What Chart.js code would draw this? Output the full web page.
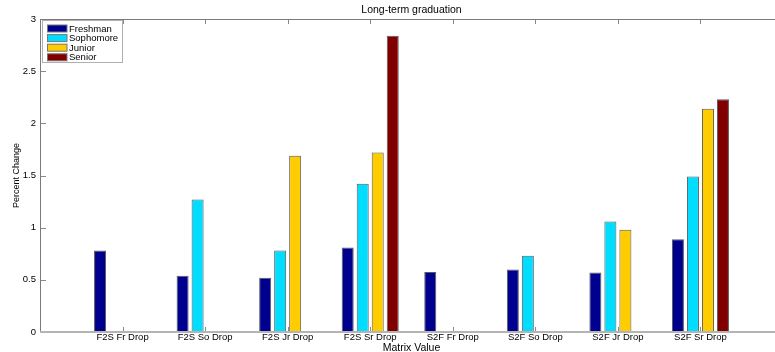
<!DOCTYPE html>
<html>
<head>
<meta charset="utf-8">
<script src="https://cdn.jsdelivr.net/npm/chart.js@4/dist/chart.umd.min.js"></script>
<style>
  html, body { margin: 0; padding: 0; background: #fff; }
  #wrap { width: 775px; height: 352px; overflow: hidden; position: relative; }
  canvas { display: block; }
</style>
</head>
<body>
<div id="wrap"><canvas id="c" width="790" height="352"></canvas></div>
<script>
// Matrix values along the x axis
const categories = ['F2S Fr Drop', 'F2S So Drop', 'F2S Jr Drop', 'F2S Sr Drop',
                    'S2F Fr Drop', 'S2F So Drop', 'S2F Jr Drop', 'S2F Sr Drop'];

// Percent change per class year
const freshman  = [0.78, 0.54, 0.52, 0.81, 0.575, 0.60, 0.57, 0.89];
const sophomore = [null, 1.27, 0.78, 1.42, null, 0.73, 1.06, 1.49];
const junior    = [null, null, 1.69, 1.72, null, null, 0.98, 2.14];
const senior    = [null, null, null, 2.84, null, null, null, 2.23];

const seriesNames = ['Freshman', 'Sophomore', 'Junior', 'Senior'];
const yTicks = [0, 0.5, 1, 1.5, 2, 2.5, 3];

const colors = ['#00008F', '#00DDFF', '#FFCC00', '#800000'];
const FONT = '"Liberation Sans", Arial, Helvetica, sans-serif';

// one empty slot on each side keeps the axis range at [0, n+1]
const pad = arr => [null, ...arr, null];
const labels = ['', ...categories, ''];

const datasets = [freshman, sophomore, junior, senior].map((d, i) => ({
  label: seriesNames[i],
  data: pad(d),
  backgroundColor: colors[i],
  borderColor: '#5a5a5a',
  borderWidth: 1,
  categoryPercentage: 4 / 5.5,
  barPercentage: 0.8
}));

// Box, inward tick marks and axis lines
const frame = {
  id: 'frame',
  afterDatasetsDraw(chart) {
    const { ctx, chartArea: a, scales: { x, y } } = chart;
    ctx.save();
    ctx.lineWidth = 1;
    ctx.strokeStyle = '#8a8a8a';
    for (let i = 1; i <= categories.length; i++) {
      const px = Math.round(x.getPixelForValue(i)) + 0.5;
      ctx.beginPath();
      ctx.moveTo(px, a.bottom); ctx.lineTo(px, a.bottom - 5);
      ctx.moveTo(px, a.top); ctx.lineTo(px, a.top + 5);
      ctx.stroke();
    }
    yTicks.forEach(v => {
      const py = Math.round(y.getPixelForValue(v)) + 0.5;
      ctx.beginPath();
      ctx.moveTo(a.left, py); ctx.lineTo(a.left + 6, py);
      ctx.moveTo(a.right, py); ctx.lineTo(a.right - 6, py);
      ctx.stroke();
    });
    // top and side lines
    ctx.strokeStyle = '#7a7a7a';
    ctx.beginPath();
    ctx.moveTo(Math.round(a.left) + 0.5, Math.round(a.bottom));
    ctx.lineTo(Math.round(a.left) + 0.5, Math.round(a.top) + 0.5);
    ctx.lineTo(Math.round(a.right) + 0.5, Math.round(a.top) + 0.5);
    ctx.lineTo(Math.round(a.right) + 0.5, Math.round(a.bottom));
    ctx.stroke();
    // baseline
    ctx.strokeStyle = '#b4b4b4';
    ctx.lineWidth = 2;
    ctx.beginPath();
    ctx.moveTo(a.left, Math.round(a.bottom));
    ctx.lineTo(a.right, Math.round(a.bottom));
    ctx.stroke();
    ctx.restore();
  }
};

// Legend box in the upper-left corner of the plot
const cornerLegend = {
  id: 'cornerLegend',
  afterDraw(chart) {
    const { ctx, chartArea: a } = chart;
    const bx = a.left + 2, by = a.top + 1, bw = 80, bh = 42;
    ctx.save();
    ctx.fillStyle = '#fff';
    ctx.fillRect(bx, by, bw, bh);
    ctx.strokeStyle = '#b0b0b0';
    ctx.lineWidth = 1;
    ctx.strokeRect(bx + 0.5, by + 0.5, bw, bh);
    ctx.font = '9.5px ' + FONT;
    ctx.textBaseline = 'middle';
    chart.data.datasets.forEach((ds, i) => {
      const cy = by + 8.5 + i * 9.6;
      ctx.fillStyle = ds.backgroundColor;
      ctx.fillRect(bx + 5, cy - 3.5, 20, 7);
      ctx.strokeStyle = '#777';
      ctx.strokeRect(bx + 5.5, cy - 3.5, 19.5, 7);
      ctx.fillStyle = '#000';
      ctx.fillText(ds.label, bx + 27, cy + 0.5);
    });
    ctx.restore();
  }
};

new Chart(document.getElementById('c'), {
  type: 'bar',
  data: { labels, datasets },
  plugins: [frame, cornerLegend],
  options: {
    responsive: false,
    animation: false,
    layout: { padding: { top: 0, right: 7, left: 0, bottom: 0 } },
    plugins: {
      legend: { display: false },
      tooltip: { enabled: false },
      title: {
        display: true,
        text: 'Long-term graduation',
        fullSize: false,
        color: '#000',
        font: { family: FONT, size: 10.5, weight: 'normal' },
        padding: { top: 4, bottom: 2.4 }
      }
    },
    scales: {
      x: {
        type: 'category',
        offset: false,
        grid: { display: false, drawTicks: false },
        border: { display: false },
        ticks: {
          color: '#000',
          font: { family: FONT, size: 9.5 },
          padding: 0,
          maxRotation: 0,
          autoSkip: false
        },
        title: {
          display: true,
          text: 'Matrix Value',
          color: '#000',
          font: { family: FONT, size: 10.5 },
          padding: { top: 0, bottom: -2 }
        },
        afterFit(scale) { scale.height = 20; }
      },
      y: {
        min: 0,
        max: 3,
        grid: { display: false, drawTicks: false },
        border: { display: false },
        afterBuildTicks(scale) { scale.ticks = yTicks.map(v => ({ value: v })); },
        ticks: {
          color: '#000',
          font: { family: FONT, size: 9.5 },
          padding: 4,
          callback: v => String(v)
        },
        title: {
          display: true,
          text: 'Percent Change',
          color: '#000',
          font: { family: FONT, size: 9 },
          padding: { top: 11.5, bottom: 0 }
        },
        afterFit(scale) { scale.width = 40; }
      }
    }
  }
});
</script>
</body>
</html>
